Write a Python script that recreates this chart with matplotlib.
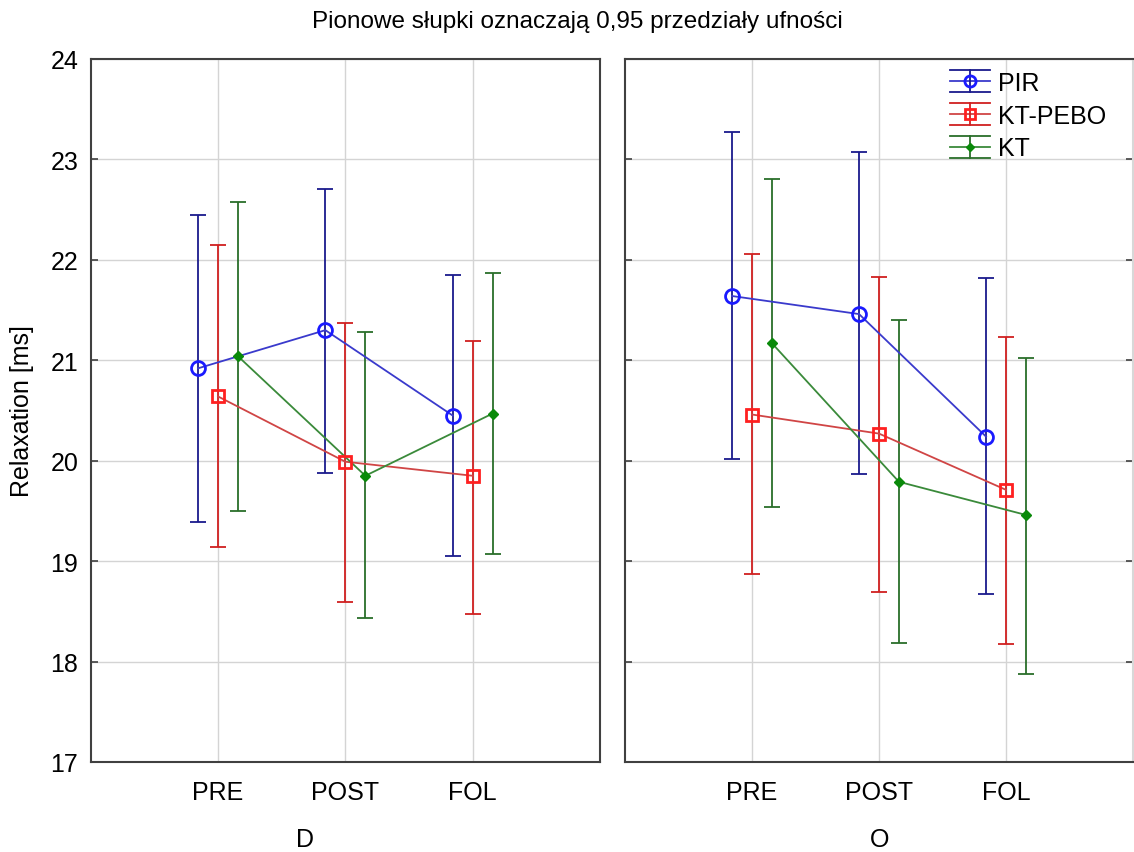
import matplotlib.pyplot as plt
from matplotlib.legend_handler import HandlerBase
from matplotlib.lines import Line2D
import numpy as np

plt.rcParams['font.family'] = ['Liberation Sans', 'DejaVu Sans']

# categories / groups
phases = ['PRE', 'POST', 'FOL']
panels = ['D', 'O']
series = ['PIR', 'KT-PEBO', 'KT']

# means and 95% CI bounds, per panel, per series (PRE, POST, FOL)
means = {
    'D': {'PIR': [20.92, 21.30, 20.45],
          'KT-PEBO': [20.64, 19.99, 19.85],
          'KT': [21.04, 19.85, 20.47]},
    'O': {'PIR': [21.64, 21.46, 20.24],
          'KT-PEBO': [20.46, 20.27, 19.71],
          'KT': [21.17, 19.79, 19.46]},
}
upper = {
    'D': {'PIR': [22.45, 22.71, 21.85],
          'KT-PEBO': [22.15, 21.37, 21.19],
          'KT': [22.58, 21.28, 21.87]},
    'O': {'PIR': [23.27, 23.07, 21.82],
          'KT-PEBO': [22.06, 21.83, 21.23],
          'KT': [22.81, 21.40, 21.02]},
}
lower = {
    'D': {'PIR': [19.39, 19.88, 19.05],
          'KT-PEBO': [19.14, 18.59, 18.47],
          'KT': [19.50, 18.43, 19.07]},
    'O': {'PIR': [20.02, 19.87, 18.67],
          'KT-PEBO': [18.87, 18.69, 18.17],
          'KT': [19.54, 18.18, 17.88]},
}

style = {
    'PIR': dict(offset=-0.157, line='#3a3acc', mcol='#1a1aff', ecol='#1a1a8c',
                marker='o', ms=10, mfc='none', mew=2.0),
    'KT-PEBO': dict(offset=0.0, line='#d04545', mcol='#ff2020', ecol='#d02020',
                    marker='s', ms=9, mfc='none', mew=2.0),
    'KT': dict(offset=0.157, line='#3a8a3a', mcol='#0a8a0a', ecol='#2a6e2a',
               marker='D', ms=5.5, mfc='#0a8a0a', mew=1.0),
}


class ErrHandler(HandlerBase):
    """legend key: caps + mean line + vertical bar + marker"""
    def __init__(self, s):
        super().__init__()
        self.s = s

    def create_artists(self, legend, orig_handle, xdescent, ydescent,
                       width, height, fontsize, trans):
        s = self.s
        yc = height / 2 - ydescent
        dy = height * 0.62
        x0, x1 = -xdescent, width - xdescent
        xm = (x0 + x1) / 2
        arts = [
            Line2D([x0, x1], [yc + dy, yc + dy], color=s['ecol'], lw=1.3),
            Line2D([x0, x1], [yc - dy, yc - dy], color=s['ecol'], lw=1.3),
            Line2D([x0, x1], [yc, yc], color=s['line'], lw=1.3),
            Line2D([xm, xm], [yc - dy, yc + dy], color=s['ecol'], lw=1.3),
            Line2D([xm], [yc], ls='none', marker=s['marker'], ms=s['ms'] * 0.8,
                   mfc=s['mfc'], mec=s['mcol'], mew=s['mew']),
        ]
        for a in arts:
            a.set_transform(trans)
        return arts


fig = plt.figure(figsize=(11.34, 8.53), dpi=100)
ax_l = fig.add_axes([90.7 / 1134, 90 / 853, 509.3 / 1134, 703 / 853])
ax_r = fig.add_axes([625 / 1134, 90 / 853, 508 / 1134, 703 / 853])

x = np.arange(1, len(phases) + 1)
for ax, panel in zip([ax_l, ax_r], panels):
    for name in series:
        s = style[name]
        m = np.array(means[panel][name])
        err = [m - np.array(lower[panel][name]), np.array(upper[panel][name]) - m]
        ax.errorbar(x + s['offset'], m, yerr=err, fmt='none', ecolor=s['ecol'],
                    elinewidth=1.3, capsize=6, capthick=1.3, zorder=2)
        ax.plot(x + s['offset'], m, color=s['line'], lw=1.3, zorder=3)
        ax.plot(x + s['offset'], m, ls='none', marker=s['marker'], ms=s['ms'],
                mfc=s['mfc'], mec=s['mcol'], mew=s['mew'], zorder=4)
    ax.set_xlim(0, 4)
    ax.set_ylim(17, 24)
    ax.set_xticks(x)
    ax.set_xticklabels(phases, fontsize=18)
    ax.set_yticks(range(17, 25))
    ax.grid(True, color='#d4d4d4', lw=1.0)
    ax.set_axisbelow(True)
    ax.tick_params(axis='y', direction='in', length=5, width=1.2,
                   color='#404040', labelsize=18, pad=9)
    ax.tick_params(axis='x', length=0, pad=13)
    for sp in ax.spines.values():
        sp.set_color('#404040')
        sp.set_linewidth(1.5)

ax_l.set_ylabel('Relaxation [ms]', fontsize=18, labelpad=12)
ax_r.tick_params(axis='y', labelleft=False, right=True)
ax_r.spines['right'].set_color('#d8d8d8')

proxies = [Line2D([], []) for _ in series]
hmap = {p: ErrHandler(style[name]) for p, name in zip(proxies, series)}
ax_r.legend(proxies, series, handler_map=hmap, loc='upper left',
            bbox_to_anchor=((950 - 625) / 508, 1 - 12 / 703),
            frameon=False, fontsize=18, handlelength=1.6, handletextpad=0.3,
            labelspacing=0.35, borderaxespad=0.0, borderpad=0.0)

fig.text(305 / 1134, 1 - 840 / 853, 'D', fontsize=18, ha='center', va='center')
fig.text(880 / 1134, 1 - 840 / 853, 'O', fontsize=18, ha='center', va='center')
fig.text(577 / 1134, 1 - 22 / 853, 'Pionowe słupki oznaczają 0,95 przedziały ufności',
         fontsize=17.5, ha='center', va='center')

fig.savefig('out.png', dpi=100)
